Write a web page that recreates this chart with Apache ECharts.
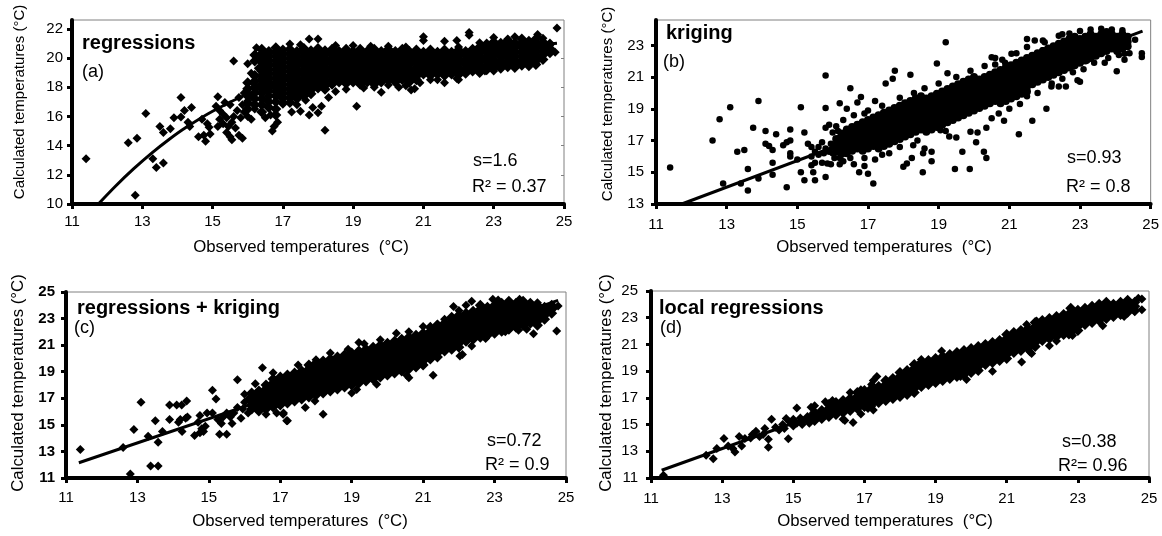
<!DOCTYPE html>
<html><head><meta charset="utf-8">
<script src="https://cdn.jsdelivr.net/npm/echarts@6/dist/echarts.min.js"></script>
<style>html,body{margin:0;padding:0;background:#fff}#c{width:1162px;height:536px}</style>
</head><body><div id="c"></div>
<script>
// ---------- tick labels ----------
const xTicks = [11,13,15,17,19,21,23,25];
const yTicksA = [10,12,14,16,18,20,22];
const yTicksB = [13,15,17,19,21,23];
const yTicksC = [11,13,15,17,19,21,23,25];
const yTicksD = [11,13,15,17,19,21,23,25];
const rightTicksA = [12,14,16,18,20];

// ---------- panel texts ----------
const panelNames = ['regressions','kriging','regressions + kriging','local regressions'];
const panelTags = ['(a)','(b)','(c)','(d)'];
const statS = ['s=1.6','s=0.93','s=0.72','s=0.38'];
const statR = ['R\u00b2 = 0.37','R\u00b2 = 0.8','R\u00b2 = 0.9','R\u00b2= 0.96'];

// ---------- (a) regressions: dense columns [x, y...] and scattered points ----------
const aCols = [
[16.0,18.3,17.9,17.4,16.9,16.5],
[16.2,20.2,19.8,18.8,18.4,18.0,17.6,17.2,16.8],
[16.4,20.6,20.3,20.0,19.7,19.4,19.1,18.8,18.5,18.2,17.9,17.6,17.2,16.8,16.3],
[16.6,20.45,20.15,19.85,19.55,19.25,18.95,18.65,18.35,18.05,17.75,17.4,17.0,16.6],
[16.8,20.7,20.4,20.1,19.8,19.5,19.2,18.9,18.6,18.3,18.0,17.7,17.4,17.0,16.5,16.1],
[17.0,20.55,20.25,19.95,19.65,19.35,19.05,18.75,18.45,18.15,17.85,17.55,17.25,16.9],
[17.2,20.6,20.3,20.0,19.7,19.4,19.1,18.8,18.5,18.2,17.9,17.6,17.3,16.95],
[17.4,20.45,20.15,19.85,19.55,19.25,18.95,18.65,18.35,18.05,17.75,17.45,17.2],
[17.6,20.65,20.35,20.05,19.75,19.45,19.15,18.85,18.55,18.25,17.95,17.65,17.4],
[17.8,20.5,20.2,19.9,19.6,19.3,19.0,18.7,18.4,18.1,17.8,17.55],
[18.0,20.65,20.35,20.05,19.75,19.45,19.15,18.85,18.55,18.25,17.95],
[18.2,20.5,20.2,19.9,19.6,19.3,19.0,18.7,18.4,18.1,17.85],
[18.4,20.6,20.3,20.0,19.7,19.4,19.1,18.8,18.5,18.2],
[18.6,20.45,20.15,19.85,19.55,19.25,18.95,18.65,18.35],
[18.8,20.6,20.3,20.0,19.7,19.4,19.1,18.8,18.5,18.25],
[19.0,20.45,20.15,19.85,19.55,19.25,18.95,18.65,18.35],
[19.2,20.6,20.3,20.0,19.7,19.4,19.1,18.8,18.5,18.2],
[19.4,20.45,20.15,19.85,19.55,19.25,18.95,18.65,18.35],
[19.6,20.6,20.3,20.0,19.7,19.4,19.1,18.8,18.5,18.2],
[19.8,20.45,20.15,19.85,19.55,19.25,18.95,18.65,18.35],
[20.0,20.6,20.3,20.0,19.7,19.4,19.1,18.8,18.5],
[20.2,20.45,20.15,19.85,19.55,19.25,18.95,18.65,18.35],
[20.4,20.6,20.3,20.0,19.7,19.4,19.1,18.8,18.5],
[20.6,20.45,20.15,19.85,19.55,19.25,18.95,18.65,18.35],
[20.8,20.55,20.25,19.95,19.65,19.35,19.05,18.75,18.5],
[21.0,20.4,20.1,19.8,19.5,19.2,18.9],
[21.2,20.55,20.25,19.95,19.65,19.35,19.05,18.8],
[21.4,20.4,20.1,19.8,19.5,19.2,18.9],
[21.6,20.55,20.25,19.95,19.65,19.35,19.05,18.8],
[21.8,20.4,20.1,19.8,19.5,19.2,18.9],
[22.0,20.55,20.25,19.95,19.65,19.35,19.05,18.85],
[22.2,20.45,20.15,19.85,19.55,19.25,18.95],
[22.4,20.6,20.3,20.0,19.7,19.4,19.1],
[22.6,20.75,20.45,20.15,19.85,19.55,19.25,19.0],
[22.8,20.95,20.65,20.35,20.05,19.75,19.45,19.2],
[23.0,21.1,20.8,20.5,20.2,19.9,19.6,19.35],
[23.2,21.0,20.7,20.4,20.1,19.8,19.5,19.3],
[23.4,21.2,20.9,20.6,20.3,20.0,19.7,19.4],
[23.6,21.05,20.75,20.45,20.15,19.85,19.55,19.35],
[23.8,21.3,21.0,20.7,20.4,20.1,19.8,19.5],
[24.0,21.15,20.85,20.55,20.25,19.95,19.65],
[24.2,21.3,21.0,20.7,20.4,20.1,19.8,19.55],
[24.4,21.1,20.8,20.5,20.2,19.9],
[24.6,20.95,20.65,20.35]
];
const aPts = [
[11.4,13.1],[12.6,14.2],[12.85,14.5],[13.1,16.2],[12.8,10.6],[13.3,13.1],[13.4,12.5],[13.6,12.8],[13.5,15.3],[13.6,14.9],[13.9,15.9],[13.8,15.15],[14.1,17.3],[14.1,15.95],[14.2,16.4],[14.3,15.6],[14.4,16.6],[14.35,15.3],[14.6,14.6],[14.75,14.7],[14.8,14.3],[14.7,15.8],[14.85,15.5],[14.9,15.25],[14.93,14.8],
[15.15,17.35],[15.1,16.7],[15.2,16.4],[15.3,16.15],[15.4,15.9],[15.3,15.5],[15.45,15.3],[15.55,15.6],[15.6,16.0],[15.7,16.4],[15.5,16.8],[15.35,16.95],[15.2,15.8],[15.15,15.3],[15.65,15.2],[15.8,15.9],[15.9,16.3],[15.85,16.8],[16.0,17.05],[16.1,17.4],[16.0,16.0],[15.75,17.3],[15.9,17.6],[16.2,17.9],[16.2,16.5],[16.1,15.8],[15.5,14.6],[15.55,14.4],[15.4,14.9],[15.75,14.7],[15.85,14.5],[15.6,19.8],[16.0,19.6],[16.2,18.7],[16.15,18.3],[16.1,18.95],[16.25,20.7],[16.3,19.3],
[16.7,15.0],[16.75,15.3],[16.85,15.6],[16.5,15.9],[16.65,16.1],
[17.75,21.3],[18.0,21.3],[17.2,20.95],[17.5,20.9],[18.2,15.05],[19.1,16.7],[19.8,17.65],[20.3,18.0],[20.65,17.8],[20.75,17.9],[17.75,16.1],[18.0,16.25],[18.1,16.7],[17.85,16.6],[17.25,16.3],[17.5,16.35],[17.4,16.8],[17.65,17.1],[18.3,17.3],[18.5,17.7],[18.8,17.85],[19.3,17.95],[19.6,18.0],[20.0,18.15],[20.5,18.1],
[21.0,21.45],[21.0,21.2],[21.6,21.15],[21.95,21.2],[22.3,21.75],[22.3,21.55],[23.4,21.3],[24.25,21.6],[24.25,21.4],[24.8,22.05],[24.75,20.4],[24.6,20.9],
[21.6,18.3],[21.4,18.5],[21.95,18.6],[22.75,19.1],[22.4,19.45],[22.6,19.2],[23.65,19.8],[23.0,19.1],[24.0,19.4],[22.0,18.5],[21.2,18.5],[20.9,18.3],
[19.0,20.85],[19.5,20.8],[20.0,20.8],[20.5,20.75],[18.5,20.85],[22.0,20.75],[22.6,21.05],[23.0,21.4],[23.6,21.45],[24.4,21.35]
];
const aLine = [[11.75,10],[12.25,11.25],[12.75,12.4],[13.25,13.45],[13.75,14.4],[14.25,15.25],[15,16.35],[16,17.55],[17,18.5],[18,19.2],[19,19.65],[20,19.95],[21,20.2],[22,20.45],[23,20.65],[24,20.85],[24.8,21.0]];

// ---------- (b) kriging ----------
const bCols = [
[16.10,16.3,16.7,17.1],
[16.25,16.15,16.45,16.75,17.05,17.45],
[16.40,16.2,16.5,16.8,17.1,17.4,17.7],
[16.55,16.35,16.65,16.95,17.25,17.55,17.85],
[16.70,16.5,16.8,17.1,17.4,17.7,18.0],
[16.85,16.35,16.65,16.95,17.25,17.55,17.85,18.15],
[17.00,16.5,16.8,17.1,17.4,17.7,18.0,18.3],
[17.15,16.65,16.95,17.25,17.55,17.85,18.15,18.45],
[17.30,16.5,16.8,17.1,17.4,17.7,18.0,18.3,18.6],
[17.45,16.65,16.95,17.25,17.55,17.85,18.15,18.45,18.75],
[17.60,16.8,17.1,17.4,17.7,18.0,18.3,18.6,18.9],
[17.75,16.95,17.25,17.55,17.85,18.15,18.45,18.75,19.05],
[17.90,17.1,17.4,17.7,18.0,18.3,18.6,18.9,19.2],
[18.05,17.25,17.55,17.85,18.15,18.45,18.75,19.05,19.35],
[18.20,17.4,17.7,18.0,18.3,18.6,18.9,19.2,19.5],
[18.35,17.55,17.85,18.15,18.45,18.75,19.05,19.35,19.65],
[18.50,17.7,18.0,18.3,18.6,18.9,19.2,19.5,19.8],
[18.65,17.55,17.85,18.15,18.45,18.75,19.05,19.35,19.65],
[18.80,17.7,18.0,18.3,18.6,18.9,19.2,19.5,19.8],
[18.95,17.85,18.15,18.45,18.75,19.05,19.35,19.65,19.95],
[19.10,18.0,18.3,18.6,18.9,19.2,19.5,19.8,20.1],
[19.25,18.15,18.45,18.75,19.05,19.35,19.65,19.95,20.25],
[19.40,18.3,18.6,18.9,19.2,19.5,19.8,20.1,20.4],
[19.55,18.45,18.75,19.05,19.35,19.65,19.95,20.25,20.55],
[19.70,18.6,18.9,19.2,19.5,19.8,20.1,20.4,20.7],
[19.85,18.75,19.05,19.35,19.65,19.95,20.25,20.55,20.85],
[20.00,18.9,19.2,19.5,19.8,20.1,20.4,20.7,21.0],
[20.15,19.05,19.35,19.65,19.95,20.25,20.55,20.85],
[20.30,19.2,19.5,19.8,20.1,20.4,20.7,21.0],
[20.45,19.35,19.65,19.95,20.25,20.55,20.85,21.15],
[20.60,19.5,19.8,20.1,20.4,20.7,21.0,21.3],
[20.75,19.35,19.65,19.95,20.25,20.55,20.85,21.15,21.45],
[20.90,19.5,19.8,20.1,20.4,20.7,21.0,21.3,21.6],
[21.05,19.65,19.95,20.25,20.55,20.85,21.15,21.45,21.75],
[21.20,19.8,20.1,20.4,20.7,21.0,21.3,21.6,21.9],
[21.35,19.95,20.25,20.55,20.85,21.15,21.45,21.75,22.05],
[21.50,20.1,20.4,20.7,21.0,21.3,21.6,21.9,22.2],
[21.65,20.55,20.85,21.15,21.45,21.75,22.05,22.35],
[21.80,20.7,21.0,21.3,21.6,21.9,22.2,22.5],
[21.95,20.85,21.15,21.45,21.75,22.05,22.35,22.65],
[22.10,21.0,21.3,21.6,21.9,22.2,22.5,22.8],
[22.25,21.15,21.45,21.75,22.05,22.35,22.65,22.95],
[22.40,21.3,21.6,21.9,22.2,22.5,22.8,23.1],
[22.55,21.45,21.75,22.05,22.35,22.65,22.95,23.25],
[22.70,21.6,21.9,22.2,22.5,22.8,23.1,23.4],
[22.85,21.75,22.05,22.35,22.65,22.95,23.25,23.55],
[23.00,21.9,22.2,22.5,22.8,23.1,23.4],
[23.15,22.05,22.35,22.65,22.95,23.25,23.55],
[23.30,22.2,22.5,22.8,23.1,23.4,23.7],
[23.45,22.35,22.65,22.95,23.25,23.55],
[23.60,22.5,22.8,23.1,23.4,23.7],
[23.75,22.65,22.95,23.25,23.55,23.85],
[23.90,22.8,23.1,23.4,23.7],
[24.05,22.65,22.95,23.25,23.55],
[24.20,22.8,23.1,23.4,23.7],
[24.35,22.95,23.25,23.55]
];
const bPts = [
[11.4,15.3],[12.6,17.0],[12.8,18.35],[13.1,19.1],[12.9,14.3],[13.3,16.3],[13.5,16.4],[13.6,15.2],[13.6,13.85],[13.4,14.3],[13.75,17.8],[13.9,19.5],[13.9,14.6],[14.1,17.6],[14.1,16.8],[14.2,16.65],[14.3,16.4],[14.4,17.4],[14.3,15.6],[14.3,14.85],[14.6,16.7],[14.7,16.9],[14.8,17.0],[14.8,17.7],[14.8,16.2],[14.8,16.0],[14.7,14.05],[15.0,15.8],[15.1,19.1],[15.1,15.0],[15.2,17.5],[15.2,14.5],[15.3,16.8],[15.4,16.6],[15.5,16.3],[15.6,16.1],[15.4,16.0],[15.5,15.6],[15.4,15.45],[15.45,15.0],[15.5,14.5],[15.8,14.7],[15.8,21.1],[15.8,19.05],[15.8,17.8],[15.9,18.0],[15.7,15.6],[15.85,15.55],[15.95,15.5],[16.0,16.2],[15.7,16.9],[15.6,16.6],[16.1,16.6],[15.95,16.8],[15.8,16.5],[16.0,17.5],[16.1,17.9],[16.2,17.2],[16.3,18.3],
[15.9,16.3],[16.0,16.6],[16.05,15.9],[16.2,15.9],[15.75,16.2],[16.15,17.6],
[16.5,20.3],[16.8,19.75],[16.7,19.4],[16.2,19.35],[16.4,19.0],[16.6,18.6],[16.9,18.7],[17.0,18.9],[17.0,14.9],[17.15,14.3],[16.9,15.4],[16.75,15.0],[16.6,15.5],[16.3,15.7],[16.2,15.5],[16.5,15.9],[16.9,15.9],[17.2,15.8],
[17.2,19.5],[17.5,20.6],[17.7,20.9],[17.76,21.4],[18.2,21.15],[18.95,21.85],[19.25,21.25],[19.2,23.2],[17.4,19.2],[17.9,19.7],[18.3,20.0],[18.6,20.3],[19.0,20.6],[19.5,21.0],[19.9,21.4],[20.3,21.7],[20.8,22.1],[21.2,22.5],[21.5,22.9],[22.0,23.2],[20.5,22.25],[20.6,22.2],[20.6,21.8],[20.88,21.9],[21.06,22.47],[21.5,23.4],[21.72,23.3],[21.95,23.3],[22.4,23.6],[22.5,23.7],[21.95,22.7],[22.7,23.75],[23.0,23.9],[23.3,24.0],[23.6,24.05],[23.9,24.0],[24.2,23.95],
[18.0,15.35],[18.1,15.55],[18.24,15.9],[18.55,15.0],[18.56,16.2],[18.8,16.3],[18.8,15.7],[19.46,15.2],[19.88,15.2],[19.67,16.3],[20.28,16.3],[20.35,15.9],[20.06,16.9],[20.85,18.25],[21.27,17.4],[21.65,18.25],[22.05,19.0],[22.19,20.4],[22.4,20.4],[22.6,20.4],[22.93,20.8],[23.0,20.7],[23.7,21.9],[24.04,21.37],[24.26,22.47],[24.26,22.1],[24.56,23.36],[24.75,22.5],[24.75,22.26],[23.2,22.05],[18.28,16.7],[18.6,16.5],[19.05,17.65],[19.3,17.25],[19.5,17.2],[19.9,17.55],[20.1,17.5],[20.35,17.8],[20.5,18.4],[20.7,18.7],[21.0,19.0],[21.3,19.3],[21.5,19.8],[21.8,20.0],[22.2,20.6],[22.5,20.9],[22.8,21.3],[23.1,21.5],[23.4,21.9],[23.8,22.2],[24.1,22.4],[24.4,22.5],[17.6,16.2],[17.9,16.6],[18.4,17.0],[19.2,17.6],[17.4,16.1]
];
const bLine = [[11.73,13],[24.77,23.9]];

// ---------- (c) regressions + kriging ----------
const cCols = [
[16.2,16.2,16.5,16.8,17.1,17.4],
[16.4,16.05,16.35,16.65,16.95,17.25,17.55],
[16.6,16.2,16.5,16.8,17.1,17.4,17.7,18.0],
[16.8,16.35,16.65,16.95,17.25,17.55,17.85,18.15,18.45],
[17.0,16.5,16.8,17.1,17.4,17.7,18.0,18.3,18.6],
[17.2,16.65,16.95,17.25,17.55,17.85,18.15,18.45,18.75],
[17.4,16.8,17.1,17.4,17.7,18.0,18.3,18.6,18.9],
[17.6,16.95,17.25,17.55,17.85,18.15,18.45,18.75,19.05],
[17.8,17.1,17.4,17.7,18.0,18.3,18.6,18.9,19.2,19.5],
[18.0,17.25,17.55,17.85,18.15,18.45,18.75,19.05,19.35,19.65],
[18.2,17.4,17.7,18.0,18.3,18.6,18.9,19.2,19.5,19.8],
[18.4,17.55,17.85,18.15,18.45,18.75,19.05,19.35,19.65,19.95],
[18.6,17.7,18.0,18.3,18.6,18.9,19.2,19.5,19.8,20.1],
[18.8,17.85,18.15,18.45,18.75,19.05,19.35,19.65,19.95,20.25],
[19.0,18.0,18.3,18.6,18.9,19.2,19.5,19.8,20.1,20.4],
[19.2,18.15,18.45,18.75,19.05,19.35,19.65,19.95,20.25,20.55],
[19.4,18.3,18.6,18.9,19.2,19.5,19.8,20.1,20.4,20.7],
[19.6,18.45,18.75,19.05,19.35,19.65,19.95,20.25,20.55,20.85],
[19.8,18.6,18.9,19.2,19.5,19.8,20.1,20.4,20.7,21.0],
[20.0,18.75,19.05,19.35,19.65,19.95,20.25,20.55,20.85,21.15],
[20.2,18.9,19.2,19.5,19.8,20.1,20.4,20.7,21.0,21.3],
[20.4,19.05,19.35,19.65,19.95,20.25,20.55,20.85,21.15,21.45],
[20.6,19.2,19.5,19.8,20.1,20.4,20.7,21.0,21.3,21.6],
[20.8,19.35,19.65,19.95,20.25,20.55,20.85,21.15,21.45,21.75],
[21.0,19.5,19.8,20.1,20.4,20.7,21.0,21.3,21.6,21.9],
[21.2,19.95,20.25,20.55,20.85,21.15,21.45,21.75,22.05,22.35],
[21.4,20.1,20.4,20.7,21.0,21.3,21.6,21.9,22.2,22.5],
[21.6,20.55,20.85,21.15,21.45,21.75,22.05,22.35,22.65],
[21.8,20.7,21.0,21.3,21.6,21.9,22.2,22.5,22.8,23.1],
[22.0,20.85,21.15,21.45,21.75,22.05,22.35,22.65,22.95,23.25],
[22.2,21.3,21.6,21.9,22.2,22.5,22.8,23.1,23.4],
[22.4,21.45,21.75,22.05,22.35,22.65,22.95,23.25,23.55],
[22.6,21.6,21.9,22.2,22.5,22.8,23.1,23.4,23.7,24.0],
[22.8,21.75,22.05,22.35,22.65,22.95,23.25,23.55,23.85],
[23.0,21.9,22.2,22.5,22.8,23.1,23.4,23.7,24.0],
[23.2,22.05,22.35,22.65,22.95,23.25,23.55,23.85,24.15],
[23.4,22.2,22.5,22.8,23.1,23.4,23.7,24.0,24.3],
[23.6,22.35,22.65,22.95,23.25,23.55,23.85,24.15],
[23.8,22.5,22.8,23.1,23.4,23.7,24.0,24.3],
[24.0,22.65,22.95,23.25,23.55,23.85,24.15],
[24.2,22.5,22.8,23.1,23.4,23.7,24.0],
[24.4,22.95,23.25,23.55,23.85],
[24.6,23.4,23.7,24.0]
];
const cPts = [
[11.4,13.15],[12.6,13.3],[12.8,11.3],[12.9,14.65],[13.1,16.7],[13.3,14.15],[13.37,11.9],[13.58,11.9],[13.5,15.3],[13.58,13.7],[13.7,14.5],[13.9,16.5],[13.9,15.4],[14.1,16.5],[14.2,15.4],[14.15,15.2],[14.24,16.5],[14.38,16.8],[14.25,14.5],[14.35,15.5],[14.4,15.6],[14.7,15.2],[14.8,14.7],[14.75,14.4],[14.6,14.2],[14.9,14.9],[14.85,14.5],[14.95,15.9],[14.75,15.7],[15.1,17.6],[15.2,16.95],[15.1,15.9],[15.25,15.4],[15.35,15.1],[15.3,14.3],[15.5,14.3],[15.6,15.6],[15.7,15.9],[15.8,16.3],[15.65,15.1],[15.8,18.4],[16.0,16.7],[16.0,17.3],[16.1,16.9],[16.3,17.0],[16.3,18.1],[15.9,15.5],[15.5,15.9],[15.4,15.6],[15.95,16.2],[16.1,15.9],[16.5,19.3],[16.8,18.92],[17.09,15.9],[17.2,15.3],[16.6,15.8],[16.9,15.9],
[17.5,19.5],[18.0,19.9],[18.4,20.4],[18.9,20.7],[19.2,21.2],[19.35,21.1],[19.8,21.4],[20.25,21.9],[20.6,22.0],[21.0,22.4],[21.4,22.6],[21.6,22.95],[21.85,23.9],[22.0,23.6],[22.36,24.3],[22.2,24.0],[22.95,24.45],[23.1,24.4],[23.7,24.45],[24.2,24.2],[24.65,23.8],[24.78,23.95],
[17.08,15.8],[17.18,15.3],[17.7,16.3],[17.97,16.8],[18.2,15.8],[19.14,17.67],[19.0,17.4],[19.7,18.05],[20.54,18.73],[20.6,18.55],[21.28,18.73],[21.0,19.55],[22.03,20.18],[22.1,20.3],[22.36,20.93],[22.68,21.68],[22.75,21.5],[23.67,22.13],[24.09,21.86],[24.74,22.06],[23.3,22.0],[23.9,22.2]
];
const cLine = [[11.36,12.15],[24.78,24.37]];

// ---------- (d) local regressions ----------
const dCols = [
[15.6,15.3,15.6,15.9],
[15.8,15.45,15.75,16.05],
[16.0,15.6,15.9,16.2,16.5],
[16.2,15.75,16.05,16.35,16.65],
[16.4,15.9,16.2,16.5,16.8],
[16.6,16.05,16.35,16.65,16.95],
[16.8,16.2,16.5,16.8,17.1,17.4],
[17.0,16.35,16.65,16.95,17.25,17.55],
[17.2,16.5,16.8,17.1,17.4,17.7],
[17.4,16.65,16.95,17.25,17.55,17.85],
[17.6,16.8,17.1,17.4,17.7,18.0,18.3],
[17.8,16.95,17.25,17.55,17.85,18.15,18.45],
[18.0,17.1,17.4,17.7,18.0,18.3,18.6,18.9],
[18.2,17.25,17.55,17.85,18.15,18.45,18.75,19.05],
[18.4,17.4,17.7,18.0,18.3,18.6,18.9,19.2,19.5],
[18.6,17.85,18.15,18.45,18.75,19.05,19.35,19.65],
[18.8,18.0,18.3,18.6,18.9,19.2,19.5,19.8],
[19.0,18.15,18.45,18.75,19.05,19.35,19.65,19.95],
[19.2,18.3,18.6,18.9,19.2,19.5,19.8,20.1],
[19.4,18.45,18.75,19.05,19.35,19.65,19.95,20.25],
[19.6,18.6,18.9,19.2,19.5,19.8,20.1,20.4],
[19.8,18.75,19.05,19.35,19.65,19.95,20.25,20.55],
[20.0,18.9,19.2,19.5,19.8,20.1,20.4,20.7],
[20.2,19.05,19.35,19.65,19.95,20.25,20.55,20.85],
[20.4,19.5,19.8,20.1,20.4,20.7,21.0],
[20.6,19.65,19.95,20.25,20.55,20.85,21.15],
[20.8,19.8,20.1,20.4,20.7,21.0,21.3],
[21.0,19.95,20.25,20.55,20.85,21.15,21.45,21.75],
[21.2,20.4,20.7,21.0,21.3,21.6,21.9],
[21.4,20.55,20.85,21.15,21.45,21.75,22.05],
[21.6,20.7,21.0,21.3,21.6,21.9,22.2],
[21.8,20.85,21.15,21.45,21.75,22.05,22.35,22.65],
[22.0,21.3,21.6,21.9,22.2,22.5,22.8],
[22.2,21.45,21.75,22.05,22.35,22.65,22.95],
[22.4,21.6,21.9,22.2,22.5,22.8,23.1],
[22.6,21.75,22.05,22.35,22.65,22.95,23.25],
[22.8,21.9,22.2,22.5,22.8,23.1,23.4,23.7],
[23.0,22.05,22.35,22.65,22.95,23.25,23.55],
[23.2,22.5,22.8,23.1,23.4,23.7],
[23.4,22.65,22.95,23.25,23.55,23.85],
[23.6,22.8,23.1,23.4,23.7,24.0],
[23.8,22.95,23.25,23.55,23.85,24.15],
[24.0,23.1,23.4,23.7,24.0],
[24.2,23.25,23.55,23.85,24.15],
[24.4,23.4,23.7,24.0,24.3],
[24.6,23.55,23.85,24.15]
];
const dPts = [
[11.35,11.2],[12.55,12.7],[12.75,12.45],[12.85,13.2],[13.05,13.95],[13.17,13.4],[13.3,13.2],[13.36,12.95],[13.48,14.1],[13.55,13.4],[13.64,13.95],[13.8,14.0],[13.85,14.25],[13.95,14.5],[14.05,14.1],[14.15,14.25],[14.2,14.7],[14.3,13.9],[14.3,13.3],[14.39,15.4],[14.8,15.45],[14.86,13.94],
[14.5,14.8],[14.6,14.6],[14.7,15.0],[14.75,14.7],[14.9,15.2],[15.0,14.9],[15.0,15.4],[15.1,15.1],[15.2,15.5],[15.25,15.0],[15.3,15.3],[15.4,15.6],[15.45,15.1],[15.5,15.4],[15.55,15.8],[15.1,16.25],[15.5,16.3],[15.6,16.4],[15.9,16.7],[16.1,16.8],[16.4,15.4],[16.45,15.3],[16.68,15.15],[16.9,15.8],[17.1,16.2],[17.2,16.35],[17.35,18.6],[17.25,18.3],[16.9,17.6],[17.2,18.0],[16.6,17.4],
[24.8,23.6],[24.6,23.45],[24.3,23.1],[23.7,22.4],[22.85,21.67],[22.75,21.7],[22.4,21.25],[22.2,20.9],[21.7,20.33],[21.65,20.45],[21.42,19.68],[21.56,22.5],[21.84,22.75],[20.6,19.0],[19.87,18.38],[19.7,18.6],[19.17,20.5],[18.6,19.88],[17.25,16.1],[24.8,24.4],[24.7,24.45]
];
const dLine = [[11.3,11.58],[24.77,24.44]];

// ---------- build ----------
function build(cols, pts){
  const out = [];
  cols.forEach(c => { for (let i = 1; i < c.length; i++) out.push([c[0], c[i]]); });
  return {data: out.concat(pts), core: out.length};
}
const FONT = '"Liberation Sans", Arial, sans-serif';
const grids = [
  {left:72, top:20, width:492, height:184},
  {left:656, top:20, width:495, height:184},
  {left:66, top:292, width:500, height:186},
  {left:651, top:291, width:498, height:187}
].map(g => Object.assign(g, {show:true, borderColor:'#808080', borderWidth:1, backgroundColor:'transparent'}));

const yRanges = [[10,22.6,yTicksA],[13,24.6,yTicksB],[11,25,yTicksC],[11,25,yTicksD]];
const yMargins = [9,12,11,13];
const xMargins = [10,13,12,13];

const xAxes = [0,1,2,3].map(i => ({
  gridIndex:i, type:'value', min:11, max:25, interval:2,
  axisLine:{show:true, onZero:false, lineStyle:{color:'#000', width:4}},
  axisTick:{show:true, length:5, customValues:xTicks, lineStyle:{color:'#000', width:3}},
  axisLabel:{color:'#000', fontSize:15, fontFamily:FONT, margin:xMargins[i], customValues:xTicks},
  splitLine:{show:false}
}));
const yAxes = [0,1,2,3].map(i => {
  const [mn, mx, ticks] = yRanges[i];
  return {
    gridIndex:i, type:'value', min:mn, max:mx, interval:2,
    axisLine:{show:true, onZero:false, lineStyle:{color:'#000', width:4}},
    axisTick:{show:true, length:5, customValues:ticks, lineStyle:{color:'#000', width:3}},
    axisLabel:{color:'#000', fontSize:15, fontWeight:i===2?'bold':'normal', fontFamily:FONT, margin:yMargins[i],
      customValues:ticks, formatter:v => ticks.indexOf(v) >= 0 ? String(v) : ''},
    splitLine:{show:false}
  };
});
// faint inner ticks on the right frame of panel (a)
yAxes.push({gridIndex:0, type:'value', position:'right', min:10, max:22.6, interval:2,
  axisLine:{show:false}, axisLabel:{show:false}, splitLine:{show:false},
  axisTick:{show:true, inside:true, length:3, customValues:rightTicksA, lineStyle:{color:'#808080', width:1}}});

const built = [build(aCols,aPts), build(bCols,bPts), build(cCols,cPts), build(dCols,dPts)];
const lines = [aLine, bLine, cLine, dLine];
const symbols = ['diamond','circle','diamond','diamond'];
const coreSize = [11,8,11,11];
const edgeSize = [9,6.5,9,9];
const series = [];
for (let i = 0; i < 4; i++) {
  const core = built[i].core;
  series.push({type:'scatter', xAxisIndex:i, yAxisIndex:i, data:built[i].data, symbol:symbols[i],
    symbolSize:(v, p) => p.dataIndex < core ? coreSize[i] : edgeSize[i],
    itemStyle:{color:'#000', opacity:1}, silent:true, z:2});
  series.push({type:'line', xAxisIndex:i, yAxisIndex:i, data:lines[i], showSymbol:false, smooth:i===0 ? 0.35 : false,
    lineStyle:{color:'#000', width:3}, silent:true, z:5});
}

// text placements (pixel layout)
const namePos = [[82,43],[666,33],[77,308],[659,308]];
const tagPos  = [[82,72],[663,62],[74,328],[660,328]];
const sPos    = [[473,161],[1067,158],[487,441],[1062,442]];
const rPos    = [[472,187],[1066,187],[485,465],[1058,466]];
const yTitlePos = [[20,102],[608,104],[18,383],[606,383]];
const yTitleSize = [15,15,16.8,16.8];
const xTitlePos = [[301,247],[884,247],[300,521],[885,521]];

const graphic = [];
function txt(t, x, y, size, weight, extra){
  return Object.assign({type:'text', x:x, y:y, silent:true, z:10,
    style:{text:t, fontSize:size, fontWeight:weight||'normal', fontFamily:FONT, fill:'#000', align:'left', verticalAlign:'middle'}}, extra||{});
}
for (let i = 0; i < 4; i++) {
  graphic.push(txt(panelNames[i], namePos[i][0], namePos[i][1], 20, 'bold'));
  graphic.push(txt(panelTags[i], tagPos[i][0], tagPos[i][1], 18));
  graphic.push(txt(statS[i], sPos[i][0], sPos[i][1], 18));
  graphic.push(txt(statR[i], rPos[i][0], rPos[i][1], 18));
  const yt = txt('Calculated temperatures (\u00b0C)', yTitlePos[i][0], yTitlePos[i][1], yTitleSize[i], 'normal', {rotation:Math.PI/2});
  yt.style.align = 'center';
  graphic.push(yt);
  const xt = txt('Observed temperatures  (\u00b0C)', xTitlePos[i][0], xTitlePos[i][1], 16.8);
  xt.style.align = 'center';
  graphic.push(xt);
}

const chart = echarts.init(document.getElementById('c'), null, {renderer:'canvas'});
chart.setOption({
  animation:false,
  backgroundColor:'#fff',
  grid:grids, xAxis:xAxes, yAxis:yAxes, series:series, graphic:graphic
});
</script>
</body></html>
